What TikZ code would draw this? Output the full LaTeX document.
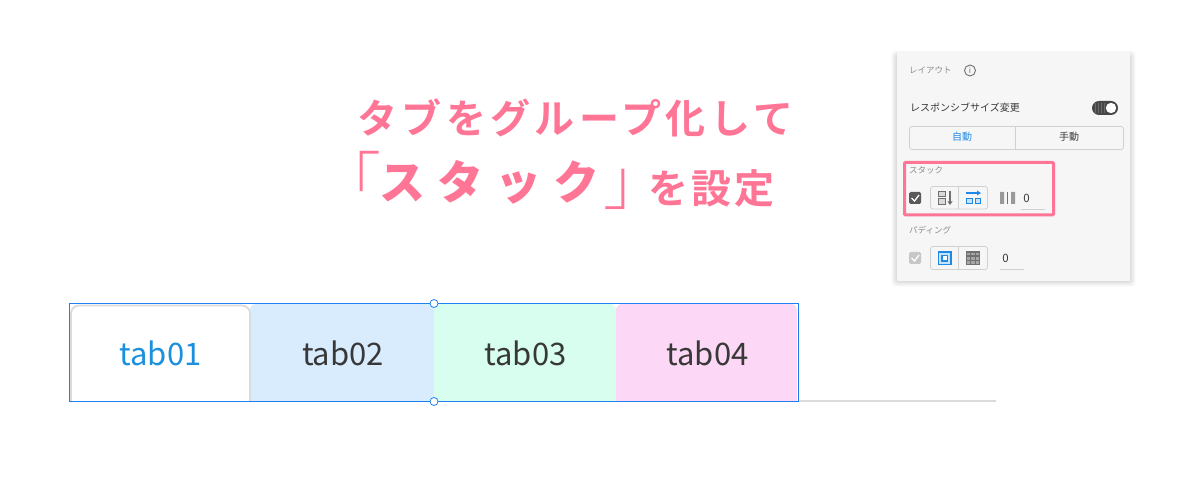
\documentclass[tikz,border=0pt]{standalone}
\usepackage{fontspec}
\setmainfont{Noto Sans CJK JP}
\newfontfamily\titlefont{Noto Sans CJK JP Bold}
\newfontfamily\titlebold{Noto Sans CJK JP Black}
\newfontfamily\bracketfont{Noto Sans CJK JP Light}
\newfontfamily\tabfont{Noto Sans CJK JP}
\definecolor{hot}{HTML}{FF7596}
\definecolor{ink}{HTML}{383838}
\definecolor{tabblue}{HTML}{D9ECFE}
\definecolor{tabgreen}{HTML}{D7FEEF}
\definecolor{tabpink}{HTML}{FDD8F6}
\definecolor{tabtext}{HTML}{1B90DC}
\definecolor{sel}{HTML}{1E80F0}
\definecolor{panelbg}{HTML}{F6F6F6}
\definecolor{edge}{HTML}{D0D0D0}
\definecolor{uiblue}{HTML}{1F8AE6}
\definecolor{uigray}{HTML}{707070}
\tikzset{
 x=1pt,y=-1pt,
 tabtitle/.style={font=\tabfont\fontsize{31}{31}\selectfont,text=ink,anchor=center,inner sep=0},
 small/.style={font=\fontsize{10}{10}\selectfont,text=ink,inner sep=0},
 zero/.style={font=\fontsize{11.5}{12}\selectfont,text=ink,inner sep=0},
 tiny/.style={font=\fontsize{8.5}{9}\selectfont,text=black!45,inner sep=0,anchor=west},
 seg/.style={draw=edge,line width=.8pt,rounded corners=2.5pt,fill=panelbg},
 handle/.style={circle,draw=sel,fill=white,line width=.8pt,minimum size=8pt,inner sep=0},
 headline/.style={anchor=base west,inner sep=0,text=hot},
}
\begin{document}
\begin{tikzpicture}
\useasboundingbox (0,0) rectangle (1184,481);
\fill[white] (0,0) rectangle (1184,481);
% title
\node[headline,font=\titlefont\fontsize{40}{40}\selectfont\addfontfeature{LetterSpace=11}] (t1) at (357,134) {タブをグループ化して};
\node[headline,font=\bracketfont\fontsize{62}{62}\selectfont] (open) at (319,204) {「};
\node[headline,font=\titlebold\fontsize{46}{46}\selectfont\addfontfeature{LetterSpace=26}] (t2) at (379,200) {スタック};
\node[headline,font=\bracketfont\fontsize{62}{62}\selectfont] (close) at (603,205) {」};
\node[headline,font=\titlefont\fontsize{40}{40}\selectfont\addfontfeature{LetterSpace=8}] (t3) at (648,204) {を設定};
% tabs
\draw[line width=2pt,black!14] (798,400.5) -- (996,400.5);
\path[fill=tabblue] (250,401) -- (250,310) arc[start angle=180,end angle=270,radius=6] -- (428,304) arc[start angle=270,end angle=360,radius=6] -- (434,401) -- cycle;
\path[fill=tabgreen] (434,401) -- (434,310) arc[start angle=180,end angle=270,radius=6] -- (610,304) arc[start angle=270,end angle=360,radius=6] -- (616,401) -- cycle;
\path[fill=tabpink] (616,401) -- (616,310) arc[start angle=180,end angle=270,radius=6] -- (791,304) arc[start angle=270,end angle=360,radius=6] -- (797,401) -- cycle;
\path[fill=white,draw=black!14,line width=1.8pt] (71,402) -- (71,313.5) arc[start angle=180,end angle=270,radius=8] -- (242,305.5) arc[start angle=270,end angle=360,radius=8] -- (250,402);
\node[tabtitle,text=tabtext] (a) at (160.5,353) {tab01};
\node[tabtitle] (b) at (343,353) {tab02};
\node[tabtitle] (c) at (525.5,353) {tab03};
\node[tabtitle] (d) at (707.5,353) {tab04};
\draw[sel,line width=1pt] (69.5,303.5) rectangle (798.5,401.5);
\node[handle] (h1) at (434,303.5) {};
\node[handle] (h2) at (434,401.5) {};
% panel shadow
\foreach \i in {1,...,7}{
 \fill[black,opacity=.018,rounded corners=4pt] (897-\i*.8,52+3-\i*.6) rectangle (1130+\i*.8,281+\i*.8);
}
\fill[panelbg,rounded corners=1pt] (897,52) rectangle (1130,281);
\node[tiny] (p1) at (909,70.5) {レイアウト};
\node[circle,draw=uigray,line width=.9pt,minimum size=11pt,inner sep=0,font=\fontsize{8}{8}\selectfont,text=uigray] (info) at (970,70.5) {i};
\node[small,anchor=west] (p2) at (910,108) {レスポンシブサイズ変更};
% toggle
\fill[black!72,rounded corners=7pt] (1092,101) rectangle (1118,115);
\foreach \xx in {1095,1098,1101,1104}{\draw[black!58,line width=.6pt] (\xx,103) -- (\xx,113);}
\fill[white] (1111,108) circle[radius=5.2];
% auto/manual
\draw[seg] (909.5,126.5) rectangle (1123.5,149.5);
\draw[edge,line width=.8pt] (1015.5,126.5) -- (1015.5,149.5);
\node[small,text=uiblue] (auto) at (962,136.5) {自動};
\node[small] (man) at (1069,136.5) {手動};
% stack
\node[tiny] (st) at (909,170.5) {スタック};
\fill[black!65,rounded corners=1.5pt] (909,192) rectangle (921,204);
\draw[white,line width=1.3pt] (911.5,198) -- (914.5,201) -- (919,195);
\draw[seg] (930.5,186.5) rectangle (987.5,209);
\draw[edge,line width=.8pt] (958.5,186.5) -- (958.5,209);
\draw[uigray,fill=black!15,line width=1pt] (938.5,191.5) rectangle (945.5,197) (938.5,199) rectangle (945.5,204.5);
\draw[uigray,line width=1.1pt] (950,191) -- (950,202);
\fill[uigray] (947.5,201.5) -- (952.5,201.5) -- (950,205) -- cycle;
\draw[uiblue,line width=1.1pt] (966,193) -- (978,193);
\fill[uiblue] (977,190.5) -- (981,193) -- (977,195.5) -- cycle;
\draw[uiblue,fill=uiblue!25,line width=1pt] (966.5,198.5) rectangle (972,204) (975,198.5) rectangle (980.5,204);
\fill[black!40] (1000,192) rectangle (1004,204) (1011,192) rectangle (1015,204);
\draw[black!55,line width=.9pt] (1007.5,192) -- (1007.5,204);
\node[zero] (z1) at (1026.5,198) {0};
\draw[edge,line width=.6pt] (1021,209.5) -- (1045,209.5);
\draw[hot,line width=3pt,rounded corners=1pt] (904.5,162.5) rectangle (1053.5,215);
% padding
\node[tiny] (pd) at (909,230.5) {パディング};
\fill[black!22,rounded corners=1.5pt] (909,252) rectangle (921,264);
\draw[white,line width=1.3pt] (911.5,258) -- (914.5,261) -- (919,255);
\draw[seg] (930.5,246.5) rectangle (987.5,269.5);
\draw[edge,line width=.8pt] (958.5,246.5) -- (958.5,269.5);
\draw[uiblue,fill=uiblue!25,line width=1.1pt] (938.5,252) rectangle (951,264.5);
\draw[uiblue,fill=white,line width=1.1pt] (942,255.5) rectangle (947.5,261);
\draw[uigray,fill=black!35,line width=1.1pt] (966.5,252) rectangle (979.5,264.5);
\draw[uigray,line width=1.1pt] (970.5,252) -- (970.5,264.5) (975.5,252) -- (975.5,264.5) (966.5,256) -- (979.5,256) (966.5,260.5) -- (979.5,260.5);
\node[zero] (z2) at (1005.5,258) {0};
\draw[edge,line width=.6pt] (1000,269.5) -- (1024,269.5);
\end{tikzpicture}
\end{document}
